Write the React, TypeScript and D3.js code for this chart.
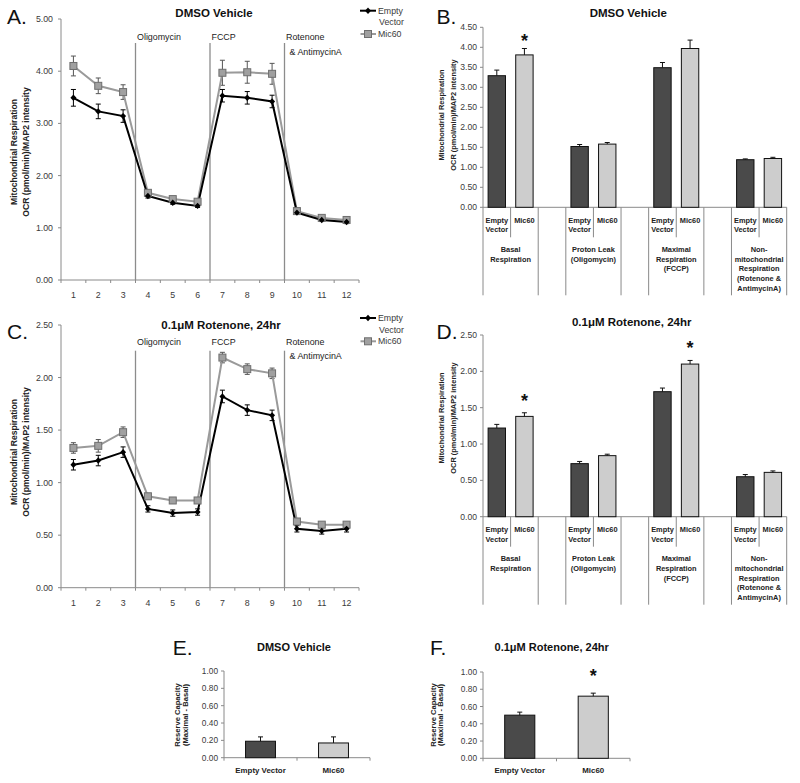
import React from "react";
import * as d3 from "d3";

const FONT = "'Liberation Sans', Arial, Helvetica, sans-serif";

// ---------- Data ----------
const timepoints = ["1", "2", "3", "4", "5", "6", "7", "8", "9", "10", "11", "12"];
const injectionAfter = [3, 6, 9];
const injectionLabels = [["Oligomycin"], ["FCCP"], ["Rotenone", "& AntimycinA"]];
const seriesNames = [["Empty", "Vector"], ["Mic60"]];

const dmsoEV = [3.49, 3.23, 3.14, 1.61, 1.48, 1.42, 3.53, 3.49, 3.42, 1.29, 1.15, 1.11];
const dmsoEVErr = [0.16, 0.14, 0.12, 0.04, 0.03, 0.03, 0.12, 0.12, 0.12, 0.03, 0.03, 0.03];
const dmsoMic = [4.1, 3.72, 3.6, 1.67, 1.55, 1.5, 3.97, 3.98, 3.95, 1.32, 1.19, 1.15];
const dmsoMicErr = [0.19, 0.15, 0.14, 0.03, 0.03, 0.03, 0.24, 0.21, 0.2, 0.03, 0.03, 0.03];

const rotEV = [1.17, 1.21, 1.29, 0.75, 0.71, 0.72, 1.82, 1.69, 1.64, 0.56, 0.54, 0.56];
const rotEVErr = [0.05, 0.05, 0.05, 0.03, 0.03, 0.03, 0.06, 0.05, 0.05, 0.03, 0.03, 0.03];
const rotMic = [1.33, 1.35, 1.48, 0.87, 0.83, 0.83, 2.19, 2.08, 2.04, 0.63, 0.6, 0.6];
const rotMicErr = [0.05, 0.06, 0.05, 0.02, 0.02, 0.02, 0.05, 0.05, 0.05, 0.02, 0.02, 0.02];

const barCategoryLabels = [["Empty", "Vector"], ["Mic60"]];
const barGroupLabels = [
  ["Basal", "Respiration"],
  ["Proton Leak", "(Oligomycin)"],
  ["Maximal", "Respiration", "(FCCP)"],
  ["Non-", "mitochondrial", "Respiration", "(Rotenone &", "AntimycinA)"],
];

const dmsoBarEV = [3.29, 1.52, 3.49, 1.19];
const dmsoBarEVErr = [0.14, 0.05, 0.13, 0.02];
const dmsoBarMic = [3.81, 1.58, 3.97, 1.22];
const dmsoBarMicErr = [0.16, 0.04, 0.21, 0.03];
const dmsoBarStars = [true, false, false, false];

const rotBarEV = [1.22, 0.73, 1.72, 0.55];
const rotBarEVErr = [0.05, 0.03, 0.05, 0.03];
const rotBarMic = [1.38, 0.84, 2.1, 0.61];
const rotBarMicErr = [0.05, 0.02, 0.05, 0.02];
const rotBarStars = [true, false, true, false];

const reserveCategories = ["Empty Vector", "Mic60"];
const dmsoReserve = [0.19, 0.17];
const dmsoReserveErr = [0.05, 0.07];
const dmsoReserveStars = [false, false];
const rotReserve = [0.5, 0.72];
const rotReserveErr = [0.035, 0.035];
const rotReserveStars = [false, true];

const ocrLabel = ["Mitochondrial Respiration", "OCR (pmol/min)/MAP2 intensity"];
const reserveLabel = ["Reserve Capacity", "(Maximal - Basal)"];

// ---------- Styles ----------
const AXIS = "#8a8a8a";
const TXT = "#3a3a3a";
const EV_LINE = "#000";
const MIC_LINE = "#9a9a9a";
const EV_BAR = "#4a4a4a";
const MIC_BAR = "#cdcdcd";

function Letter({ x, y, t }: { x: number; y: number; t: string }) {
  return (
    <text x={x} y={y} fontFamily={FONT} fontSize={21} fill="#111">
      {t}
    </text>
  );
}

function Title({ x, y, t, size = 11.5 }: { x: number; y: number; t: string; size?: number }) {
  return (
    <text x={x} y={y} textAnchor="middle" dominantBaseline="central" fontFamily={FONT} fontWeight="bold" fontSize={size} fill="#111">
      {t}
    </text>
  );
}

function YLabel({ xs, y, lines, size }: { xs: number[]; y: number; lines: string[]; size: number }) {
  return (
    <g>
      {lines.map((l, i) => (
        <text
          key={i}
          transform={`translate(${xs[i]},${y}) rotate(-90)`}
          textAnchor="middle"
          dominantBaseline="central"
          fontFamily={FONT}
          fontWeight="bold"
          fontSize={size}
          fill="#222"
        >
          {l}
        </text>
      ))}
    </g>
  );
}

function YAxis({ y, left, ticks, fontSize, labelGap }: { y: d3.ScaleLinear<number, number>; left: number; ticks: number[]; fontSize: number; labelGap: number }) {
  const [b, t] = y.range();
  return (
    <g>
      <line x1={left} x2={left} y1={t} y2={b} stroke={AXIS} strokeWidth={1} />
      {ticks.map((v) => (
        <g key={v}>
          <line x1={left - 3} x2={left} y1={y(v)} y2={y(v)} stroke={AXIS} />
          <text x={left - labelGap} y={y(v)} textAnchor="end" dominantBaseline="central" fontFamily={FONT} fontSize={fontSize} fill={TXT}>
            {v.toFixed(2)}
          </text>
        </g>
      ))}
    </g>
  );
}

type LineProps = {
  ev: number[]; evErr: number[]; mic: number[]; micErr: number[];
  left: number; right: number; top: number; bottom: number; yMax: number; step: number;
  title: string; titleX: number; titleY: number;
  letter: string; letterY: number;
  injTop: number; injLabelY: number;
  legendY: number; ylabelY: number;
};

function LinePanel(p: LineProps) {
  const x = d3.scaleBand<string>().domain(timepoints).range([p.left, p.right]).padding(0);
  const y = d3.scaleLinear().domain([0, p.yMax]).range([p.bottom, p.top]);
  const cx = (i: number) => (x(timepoints[i]) as number) + x.bandwidth() / 2;
  const ticks = d3.range(0, p.yMax + 1e-9, p.step);
  const line = d3.line<number>().x((_, i) => cx(i)).y((d) => y(d));
  const boundaries = d3.range(0, timepoints.length + 1).map((i) => p.left + i * x.bandwidth());

  const errBars = (vals: number[], errs: number[], color: string) =>
    vals.map((v, i) => (
      <g key={i} stroke={color} strokeWidth={1}>
        <line x1={cx(i)} x2={cx(i)} y1={y(v - errs[i])} y2={y(v + errs[i])} />
        <line x1={cx(i) - 2.5} x2={cx(i) + 2.5} y1={y(v - errs[i])} y2={y(v - errs[i])} />
        <line x1={cx(i) - 2.5} x2={cx(i) + 2.5} y1={y(v + errs[i])} y2={y(v + errs[i])} />
      </g>
    ));

  const diamond = (px: number, py: number, k: any) => (
    <path key={k} d={`M${px},${py - 3.2}L${px + 3},${py}L${px},${py + 3.2}L${px - 3},${py}Z`} fill={EV_LINE} />
  );
  const square = (px: number, py: number, k: any) => (
    <rect key={k} x={px - 3.5} y={py - 3.5} width={7} height={7} fill="#a0a0a0" stroke="#6e6e6e" strokeWidth={1} />
  );

  return (
    <g>
      <Letter x={7} y={p.letterY} t={p.letter} />
      <Title x={p.titleX} y={p.titleY} t={p.title} />
      <YLabel xs={[14, 25.5]} y={p.ylabelY} lines={ocrLabel} size={8.6} />
      <YAxis y={y} left={p.left} ticks={ticks} fontSize={8.8} labelGap={8} />
      <line x1={p.left} x2={p.right} y1={p.bottom} y2={p.bottom} stroke={AXIS} />
      {boundaries.map((bx, i) => (
        <line key={i} x1={bx} x2={bx} y1={p.bottom} y2={p.bottom + 3} stroke={AXIS} />
      ))}
      {timepoints.map((t, i) => (
        <text key={t} x={cx(i)} y={p.bottom + 15} textAnchor="middle" dominantBaseline="central" fontFamily={FONT} fontSize={8.8} fill={TXT}>
          {t}
        </text>
      ))}
      {injectionAfter.map((a, k) => {
        const vx = p.left + a * x.bandwidth();
        return (
          <g key={k}>
            <line x1={vx} x2={vx} y1={p.injTop} y2={p.bottom} stroke="#8c8c8c" strokeWidth={1.3} />
            {injectionLabels[k].map((l, j) => (
              <text key={j} x={vx + 1.5 + j * 3.5} y={p.injLabelY + j * 14.5} dominantBaseline="central" fontFamily={FONT} fontSize={8.9} fill="#222">
                {l}
              </text>
            ))}
          </g>
        );
      })}
      {errBars(p.mic, p.micErr, "#555")}
      <path d={line(p.mic) as string} fill="none" stroke={MIC_LINE} strokeWidth={2} />
      {errBars(p.ev, p.evErr, "#000")}
      <path d={line(p.ev) as string} fill="none" stroke={EV_LINE} strokeWidth={2} />
      {p.mic.map((v, i) => square(cx(i), y(v), i))}
      {p.ev.map((v, i) => diamond(cx(i), y(v), i))}
      <g fontFamily={FONT} fontSize={8.8} fill={TXT}>
        <line x1={360} x2={376} y1={p.legendY} y2={p.legendY} stroke={EV_LINE} strokeWidth={2} />
        {diamond(368, p.legendY, "ld")}
        <text x={378} y={p.legendY} dominantBaseline="central">{seriesNames[0][0]}</text>
        <text x={379} y={p.legendY + 11.6} dominantBaseline="central">{seriesNames[0][1]}</text>
        <line x1={360.5} x2={376} y1={p.legendY + 23.3} y2={p.legendY + 23.3} stroke={MIC_LINE} strokeWidth={2} />
        {square(368, p.legendY + 23.3, "ls")}
        <text x={378} y={p.legendY + 23.3} dominantBaseline="central">{seriesNames[1][0]}</text>
      </g>
    </g>
  );
}

type BarProps = {
  ev: number[]; evErr: number[]; mic: number[]; micErr: number[]; stars: boolean[];
  left: number; right: number; top: number; bottom: number; yMax: number; step: number;
  title: string; titleX: number; titleY: number; letter: string; letterY: number;
  ylabelY: number; starGap: number;
};

function ErrUp({ x, y0, y1 }: { x: number; y0: number; y1: number }) {
  return (
    <g stroke="#111" strokeWidth={1}>
      <line x1={x} x2={x} y1={y0} y2={y1} />
      <line x1={x - 2.5} x2={x + 2.5} y1={y1} y2={y1} />
    </g>
  );
}

function Star({ x, y }: { x: number; y: number }) {
  return (
    <text x={x} y={y + 10} textAnchor="middle" fontFamily={FONT} fontWeight="bold" fontSize={18} fill="#111">
      *
    </text>
  );
}

function BarPanel(p: BarProps) {
  const nSlots = barGroupLabels.length * 3 - 1;
  const x = d3.scaleBand<number>().domain(d3.range(nSlots)).range([p.left, p.right]).padding(0);
  const bw = x.bandwidth();
  const barW = bw * 0.63;
  const y = d3.scaleLinear().domain([0, p.yMax]).range([p.bottom, p.top]);
  const ticks = d3.range(0, p.yMax + 1e-9, p.step);
  const longIdx: number[] = [];
  const shortIdx: number[] = [];
  barGroupLabels.forEach((_, g) => {
    longIdx.push(3 * g, 3 * g + 2);
    shortIdx.push(3 * g + 1);
  });
  const lab = { fontFamily: FONT, fontWeight: "bold" as const, fontSize: 7.4, fill: "#222" };

  return (
    <g>
      <Letter x={436.5} y={p.letterY} t={p.letter} />
      <Title x={p.titleX} y={p.titleY} t={p.title} />
      <YLabel xs={[441.7, 453.2]} y={p.ylabelY} lines={ocrLabel} size={7.4} />
      <YAxis y={y} left={p.left} ticks={ticks} fontSize={8.6} labelGap={6} />
      <line x1={p.left} x2={p.right} y1={p.bottom} y2={p.bottom} stroke={AXIS} />
      {longIdx.map((i) => (
        <line key={"l" + i} x1={p.left + i * bw} x2={p.left + i * bw} y1={p.bottom} y2={p.bottom + 88} stroke={AXIS} />
      ))}
      {shortIdx.map((i) => (
        <line key={"s" + i} x1={p.left + i * bw} x2={p.left + i * bw} y1={p.bottom} y2={p.bottom + 30} stroke={AXIS} />
      ))}
      {barGroupLabels.map((gl, g) => {
        const evC = (x(3 * g) as number) + bw / 2;
        const micC = (x(3 * g + 1) as number) + bw / 2;
        const gC = p.left + (3 * g + 1) * bw;
        return (
          <g key={g}>
            <rect x={evC - barW / 2} y={y(p.ev[g])} width={barW} height={p.bottom - y(p.ev[g])} fill={EV_BAR} stroke="#111" strokeWidth={1} />
            <rect x={micC - barW / 2} y={y(p.mic[g])} width={barW} height={p.bottom - y(p.mic[g])} fill={MIC_BAR} stroke="#111" strokeWidth={1} />
            <ErrUp x={evC} y0={y(p.ev[g])} y1={y(p.ev[g] + p.evErr[g])} />
            <ErrUp x={micC} y0={y(p.mic[g])} y1={y(p.mic[g] + p.micErr[g])} />
            {p.stars[g] && <Star x={micC} y={y(p.mic[g] + p.micErr[g]) - p.starGap} />}
            {barCategoryLabels[0].map((l, j) => (
              <text key={"e" + j} x={evC} y={p.bottom + 13 + j * 9.5} textAnchor="middle" dominantBaseline="central" {...lab}>
                {l}
              </text>
            ))}
            {barCategoryLabels[1].map((l, j) => (
              <text key={"m" + j} x={micC} y={p.bottom + 13 + j * 9.5} textAnchor="middle" dominantBaseline="central" {...lab}>
                {l}
              </text>
            ))}
            {gl.map((l, j) => (
              <text key={"g" + j} x={gC} y={p.bottom + 42 + j * 9.7} textAnchor="middle" dominantBaseline="central" {...lab}>
                {l}
              </text>
            ))}
          </g>
        );
      })}
    </g>
  );
}

type ResProps = {
  vals: number[]; errs: number[]; stars: boolean[];
  left: number; right: number; top: number; bottom: number;
  title: string; titleX: number; letter: string; letterX: number; ylabelXs: number[];
};

function ReservePanel(p: ResProps) {
  const x = d3.scaleBand<string>().domain(reserveCategories).range([p.left, p.right]).padding(0);
  const bw = x.bandwidth();
  const barW = bw * 0.41;
  const y = d3.scaleLinear().domain([0, 1]).range([p.bottom, p.top]);
  const ticks = d3.range(0, 1.0001, 0.2);
  const fills = [EV_BAR, MIC_BAR];
  return (
    <g>
      <Letter x={p.letterX} y={655} t={p.letter} />
      <Title x={p.titleX} y={647} t={p.title} size={11} />
      <YLabel xs={p.ylabelXs} y={715} lines={reserveLabel} size={7.6} />
      <YAxis y={y} left={p.left} ticks={ticks} fontSize={8.3} labelGap={6} />
      <line x1={p.left} x2={p.right} y1={p.bottom} y2={p.bottom} stroke={AXIS} />
      {[0, 1, 2].map((i) => (
        <line key={i} x1={p.left + i * bw} x2={p.left + i * bw} y1={p.bottom} y2={p.bottom + 3} stroke={AXIS} />
      ))}
      {reserveCategories.map((c, i) => {
        const cx = (x(c) as number) + bw / 2;
        return (
          <g key={c}>
            <rect x={cx - barW / 2} y={y(p.vals[i])} width={barW} height={p.bottom - y(p.vals[i])} fill={fills[i]} stroke="#111" strokeWidth={1} />
            <ErrUp x={cx} y0={y(p.vals[i])} y1={y(p.vals[i] + p.errs[i])} />
            {p.stars[i] && <Star x={cx} y={y(p.vals[i] + p.errs[i]) - 21} />}
            <text x={cx} y={p.bottom + 12.5} textAnchor="middle" dominantBaseline="central" fontFamily={FONT} fontWeight="bold" fontSize={7.9} fill="#222">
              {c}
            </text>
          </g>
        );
      })}
    </g>
  );
}

export default function App() {
  return (
    <svg width={800} height={783} style={{ position: "absolute", left: 0, top: 0, background: "#fff" }}>
      <rect width={800} height={783} fill="#fff" />
      <LinePanel
        ev={dmsoEV} evErr={dmsoEVErr} mic={dmsoMic} micErr={dmsoMicErr}
        left={61} right={359} top={19} bottom={280} yMax={5} step={1}
        title="DMSO Vehicle" titleX={214} titleY={12.5} letter="A." letterY={23.5}
        injTop={43} injLabelY={37.3} legendY={10.7} ylabelY={152}
      />
      <LinePanel
        ev={rotEV} evErr={rotEVErr} mic={rotMic} micErr={rotMicErr}
        left={61} right={359} top={325} bottom={587.7} yMax={2.5} step={0.5}
        title="0.1μM Rotenone, 24hr" titleX={221} titleY={325} letter="C." letterY={339}
        injTop={350.7} injLabelY={341.7} legendY={318} ylabelY={452}
      />
      <BarPanel
        ev={dmsoBarEV} evErr={dmsoBarEVErr} mic={dmsoBarMic} micErr={dmsoBarMicErr} stars={dmsoBarStars}
        left={483} right={786.7} top={27.3} bottom={207.3} yMax={4.5} step={0.5}
        title="DMSO Vehicle" titleX={628.3} titleY={12.5} letter="B." letterY={23.5}
        ylabelY={115} starGap={12}
      />
      <BarPanel
        ev={rotBarEV} evErr={rotBarEVErr} mic={rotBarMic} micErr={rotBarMicErr} stars={rotBarStars}
        left={483} right={786.7} top={335} bottom={516.7} yMax={2.5} step={0.5}
        title="0.1μM Rotenone, 24hr" titleX={631.7} titleY={321.5} letter="D." letterY={339}
        ylabelY={418} starGap={16}
      />
      <ReservePanel
        vals={dmsoReserve} errs={dmsoReserveErr} stars={dmsoReserveStars}
        left={224} right={370} top={671} bottom={757.7}
        title="DMSO Vehicle" titleX={294} letter="E." letterX={172.7} ylabelXs={[177, 185]}
      />
      <ReservePanel
        vals={rotReserve} errs={rotReserveErr} stars={rotReserveStars}
        left={483} right={630} top={672} bottom={758.3}
        title="0.1μM Rotenone, 24hr" titleX={551.7} letter="F." letterX={430} ylabelXs={[433, 440.5]}
      />
    </svg>
  );
}
